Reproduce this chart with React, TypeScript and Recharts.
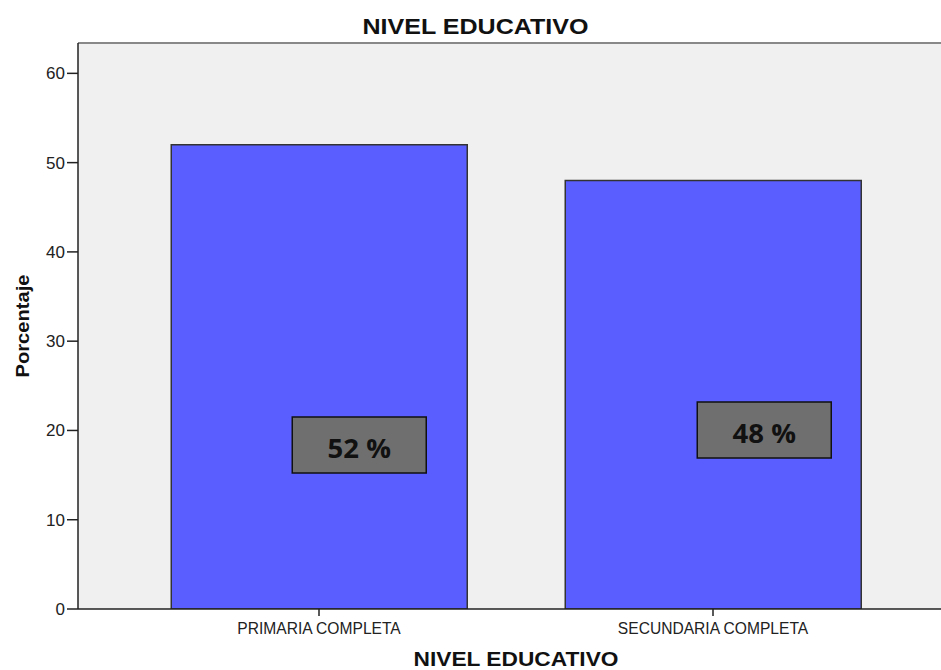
import React from "react";
import {
  BarChart,
  Bar,
  XAxis,
  YAxis,
  CartesianGrid,
  ReferenceLine,
  LabelList,
  Label,
} from "recharts";

const CATEGORIES = ["PRIMARIA COMPLETA", "SECUNDARIA COMPLETA"];
const PERCENTAGES = [52, 48];
const VALUE_LABELS = ["52 %", "48 %"];
const Y_TICKS = [0, 10, 20, 30, 40, 50, 60];
const Y_MAX = 63.4;

const TITLE = "NIVEL EDUCATIVO";
const X_TITLE = "NIVEL EDUCATIVO";
const Y_TITLE = "Porcentaje";

const data = CATEGORIES.map((c, i) => ({
  category: c,
  value: PERCENTAGES[i],
  label: VALUE_LABELS[i],
}));

// presentation: label box placement relative to each bar (px)
const BOX_W = 134;
const BOX_H = 56;
const BOX_PLACEMENT = [
  { dx: 40, above: 192 },
  { dx: 51, above: 207 },
];

const W = 941;
const H = 670;
const PAD_L = 44;
const PAD_R = 31;
const FONT = "'Liberation Sans', Arial, sans-serif";

const ValueBox = (props: any) => {
  const { x, y, width, height, index, value } = props;
  const p = BOX_PLACEMENT[index] || { dx: 0, above: height / 2 };
  const cx = x + width / 2 + p.dx;
  const bottom = y + height;
  const top = bottom - p.above;
  return (
    <g>
      <rect
        x={cx - BOX_W / 2}
        y={top}
        width={BOX_W}
        height={BOX_H}
        fill="#6f6f6f"
        stroke="#111"
        strokeWidth={1.5}
      />
      <text
        x={cx}
        y={top + 41}
        textAnchor="middle"
        fontFamily="'Open Sans', sans-serif"
        fontWeight={700}
        fontSize={27.5}
        fill="#111"
      >
        {value}
      </text>
    </g>
  );
};

export default function App() {
  return (
    <div style={{ position: "absolute", left: 0, top: 0, width: W, height: H, background: "#fff" }}>
      <BarChart
        width={W}
        height={H}
        data={data}
        margin={{ top: 43, right: 0, bottom: 0, left: 0 }}
        barCategoryGap="12.5%"
      >
        <CartesianGrid horizontal={false} vertical={false} fill="#f0f0f0" stroke="none" />
        <XAxis
          dataKey="category"
          height={61}
          padding={{ left: PAD_L, right: PAD_R }}
          axisLine={{ stroke: "#222", strokeWidth: 1.5 }}
          tickLine={{ stroke: "#222", strokeWidth: 1.5 }}
          tickSize={7}
          tickMargin={7}
          tick={{ fill: "#222", fontSize: 15.6, fontFamily: FONT }}
          interval={0}
        >
          <Label
            content={(lp: any) => {
              const vb = lp.viewBox || {};
              const cx = vb.x + PAD_L + (vb.width - PAD_L - PAD_R) / 2;
              return (
                <text
                  x={cx}
                  y={666}
                  textAnchor="middle"
                  fontFamily={FONT}
                  fontWeight={700}
                  fontSize={20.5}
                  textLength={205}
                  lengthAdjust="spacingAndGlyphs"
                  fill="#111"
                >
                  {X_TITLE}
                </text>
              );
            }}
          />
        </XAxis>
        <YAxis
          width={78}
          domain={[0, Y_MAX]}
          ticks={Y_TICKS}
          allowDataOverflow
          axisLine={{ stroke: "#222", strokeWidth: 1.5 }}
          tickLine={{ stroke: "#222", strokeWidth: 1.5 }}
          tickSize={11}
          tickMargin={2}
          tick={{ fill: "#222", fontSize: 17, fontFamily: FONT }}
        >
          <Label
            content={(lp: any) => {
              const vb = lp.viewBox || {};
              const cy = vb.y + vb.height / 2;
              return (
                <text
                  x={29}
                  y={cy}
                  transform={`rotate(-90 29 ${cy})`}
                  textAnchor="middle"
                  fontFamily={FONT}
                  fontWeight={700}
                  fontSize={19}
                  textLength={103}
                  lengthAdjust="spacingAndGlyphs"
                  fill="#111"
                >
                  {Y_TITLE}
                </text>
              );
            }}
          />
        </YAxis>
        <ReferenceLine y={Y_MAX} stroke="#888" strokeWidth={2} ifOverflow="visible" />
        <Bar
          dataKey="value"
          fill="#5b5eff"
          stroke="#333"
          strokeWidth={1.5}
          isAnimationActive={false}
        >
          <LabelList dataKey="label" content={ValueBox} />
        </Bar>
      </BarChart>
      <svg
        width={W}
        height={42}
        style={{ position: "absolute", left: 0, top: 0, pointerEvents: "none" }}
      >
        <text
          x={475.5}
          y={34}
          textAnchor="middle"
          fontFamily={FONT}
          fontWeight={700}
          fontSize={22}
          textLength={226}
          lengthAdjust="spacingAndGlyphs"
          fill="#111"
        >
          {TITLE}
        </text>
      </svg>
    </div>
  );
}
